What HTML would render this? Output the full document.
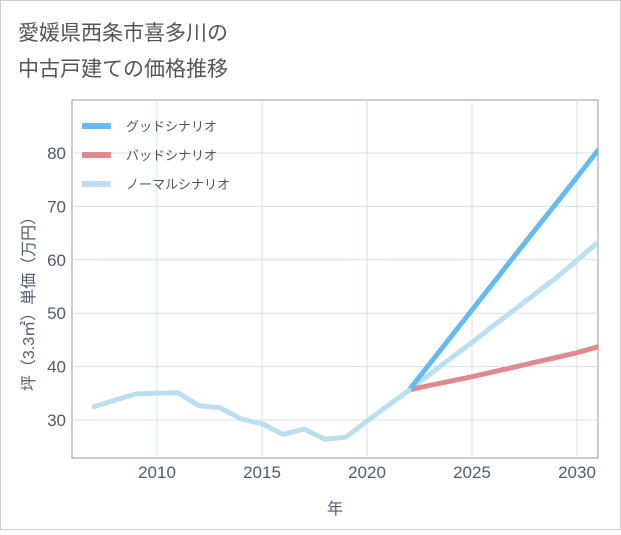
<!DOCTYPE html>
<html><head><meta charset="utf-8"><style>
body{margin:0;background:#fff;font-family:"Liberation Sans","Noto Sans CJK JP",sans-serif;}
</style></head><body>
<svg id="c" width="621" height="530" xmlns="http://www.w3.org/2000/svg" style="font-family:'Liberation Sans','Noto Sans CJK JP',sans-serif">
<rect x="0.5" y="0.5" width="620" height="529" fill="#fff" stroke="#ccc"/>
<text x="18" y="40" font-size="21" fill="#555">愛媛県西条市喜多川の</text>
<text x="18" y="76" font-size="21" fill="#555">中古戸建ての価格推移</text>
<g id="plot"></g>
</svg>
<script>
const years=[2007,2008,2009,2010,2011,2012,2013,2014,2015,2016,2017,2018,2019,2020,2021,2022];
const hist=[32.5,33.7,34.9,35,35.1,32.7,32.3,30.2,29.3,27.3,28.3,26.4,26.8,29.8,32.7,35.6];
const futYears=[2022,2023,2024,2025,2026,2027,2028,2029,2030,2031];
const good=[35.6,40.6,45.6,50.6,55.6,60.6,65.6,70.5,75.5,80.5];
const bad=[35.6,36.5,37.3,38.1,39.0,39.9,40.8,41.7,42.6,43.7];
const normal=[35.6,38.6,41.6,44.5,47.6,50.6,53.6,56.6,59.9,63.3];
const xTicks=[2010,2015,2020,2025,2030];
const yTicks=[30,40,50,60,70,80];
const NS="http://www.w3.org/2000/svg";
const L=72,R=598,T=100,B=458;
const x=v=>157+(v-2010)*21;
const y=v=>420-(v-30)*5.34;
const g=document.getElementById('plot');
function mk(t,a,p){const e=document.createElementNS(NS,t);for(const k in a)e.setAttribute(k,a[k]);(p||g).appendChild(e);return e;}
mk('rect',{x:L,y:T,width:R-L,height:B-T,fill:'none',stroke:'#999'});
xTicks.forEach(v=>{const l=mk('line',{x1:x(v),x2:x(v),y1:T,y2:B,stroke:'#d6e0ea'});

const t=mk('text',{x:x(v),y:B+20,'text-anchor':'middle','font-size':17,fill:'#4e5d6c'});t.textContent=v;
});
yTicks.forEach(v=>{const l=mk('line',{x1:L,x2:R,y1:y(v),y2:y(v),stroke:'#d6e0ea'});

const t=mk('text',{x:L-6,y:y(v)+6,'text-anchor':'end','font-size':17,fill:'#4e5d6c'});t.textContent=v;
});
const clip=mk('clipPath',{id:'cp'});mk('rect',{x:L,y:T,width:R-L,height:B-T},clip);
function line(xs,vs,col,name){const d=xs.map((a,i)=>(i?'L':'M')+x(a)+','+y(vs[i])).join('');
const p=mk('path',{d:d,fill:'none',stroke:col,'stroke-width':5,'stroke-linejoin':'round','stroke-linecap':'round','clip-path':'url(#cp)'});
}
line(futYears,normal,'#bcdff0','normal-scenario-line');
line(futYears,bad,'#e08a90','bad-scenario-line');
line(futYears,good,'#66bbee','good-scenario-line');
line(years,hist,'#bcdff0','historical-line');
const leg=[['グッドシナリオ','#66bbee'],['バッドシナリオ','#e08a90'],['ノーマルシナリオ','#bcdff0']];
leg.forEach((e,i)=>{const yy=126+i*29;
const s=mk('line',{x1:82,x2:111,y1:yy,y2:yy,stroke:e[1],'stroke-width':6});

const t=mk('text',{x:126,y:yy+5,'font-size':13,fill:'#555'});t.textContent=e[0];
});
const xt=mk('text',{x:335,y:514,'text-anchor':'middle','font-size':16,fill:'#4e5d6c'});xt.textContent='年';

const yt=mk('text',{x:0,y:0,'text-anchor':'middle','font-size':16,fill:'#4e5d6c',transform:'translate(34,300) rotate(-90)'});yt.textContent='坪（3.3㎡）単価（万円）';

</script>
</body></html>
